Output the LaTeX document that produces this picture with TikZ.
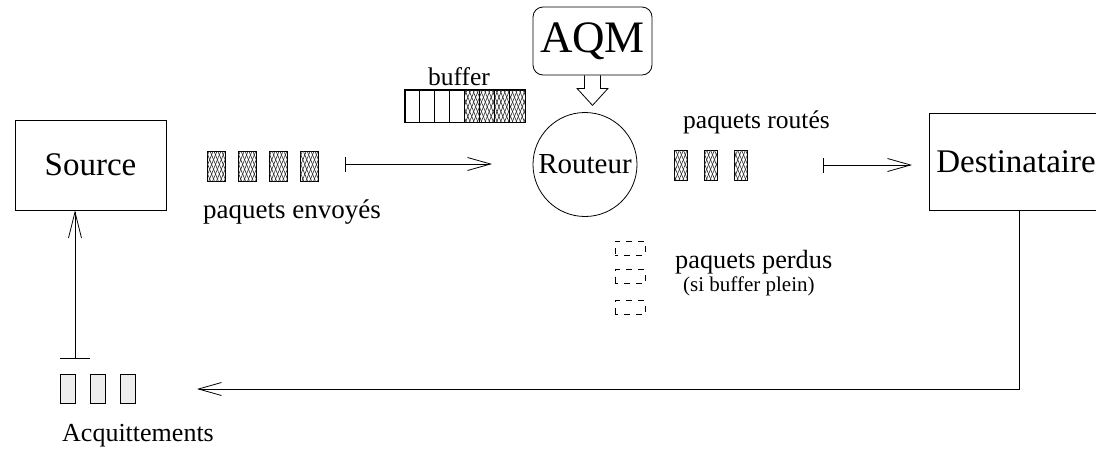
\documentclass[tikz,border=0pt]{standalone}
\usepackage{fontspec}
\setmainfont{Liberation Serif}
\usetikzlibrary{arrows.meta,patterns.meta,calc}

\newcommand\fsz[1]{\fontsize{#1}{#1}\selectfont}

\tikzset{
  lw/.style={line width=0.8pt},
  box/.style={draw, lw, inner sep=0pt},
  hatched/.style={
    pattern={Lines[angle=68,distance=3.6pt,line width=0.6pt]}, pattern color=black!85,
    postaction={pattern={Lines[angle=-68,distance=3.6pt,line width=0.6pt]}, pattern color=black!85}},
  pkt/.style={draw, lw, inner sep=0pt, minimum width=18pt, minimum height=30pt, hatched},
  rpkt/.style={pkt, minimum width=13pt},
  lost/.style={draw, lw, inner sep=0pt, minimum width=30pt, minimum height=14pt,
    dash pattern=on 6pt off 6pt, dash phase=3pt},
  ackpkt/.style={draw, lw, inner sep=0pt, minimum width=15pt, minimum height=29pt, fill=black!7},
  lbl/.style={inner sep=0pt, anchor=base west},
  flow/.style={lw, {Bar[width=15pt]}-{Straight Barb[length=23pt,width=13pt]}},
  ackflow/.style={lw, {Bar[width=30pt]}-{Straight Barb[length=26pt,width=13pt]}},
  back/.style={lw, -{Straight Barb[length=23pt,width=13pt]}},
}

\begin{document}
\begin{tikzpicture}[x=1pt,y=-1pt]
\clip (0,0) rectangle (1096,448);

% end hosts, router and queue manager
\node[box, minimum width=151pt, minimum height=90pt, font=\fsz{33}] (src) at (90.5,165) {Source};
\node[box, minimum width=180pt, minimum height=97pt, font=\fsz{33}] (dst) at (1019,161.5) {\hspace*{-6pt}Destinataire};
\node[draw, lw, circle, minimum size=104pt, inner sep=0pt, font=\fsz{29}] (rtr) at (585,164.5) {Routeur};
\node[draw, lw, rounded corners=10pt, minimum width=119pt, minimum height=68pt, inner sep=0pt, font=\fsz{45}] (aqm) at (592.5,41) {AQM};

% hollow arrow from the queue manager down to the router
\draw[lw] ($(aqm.south)+(-8,0)$) -- ++(0,13) -- ++(-7.5,0)
  -- ($(aqm.south)+(0,30)$) -- ($(aqm.south)+(15.5,13)$) -- ++(-7.5,0)
  -- ($(aqm.south)+(8,0)$);

% router buffer: four free cells, four occupied ones
\node[box, minimum width=120pt, minimum height=32pt] (buf) at (465,106) {};
\path[hatched] (buf.north) rectangle (buf.south east);
\foreach \k in {1,...,7}
  \draw[lw] ($(buf.north west)+(15*\k,0)$) -- ($(buf.south west)+(15*\k,0)$);
\draw[lw] (buf.north west) rectangle (buf.south east);
\node[lbl, anchor=base, font=\fsz{25.5}] (buflbl) at (459,85) {buffer};

% packets sent by the source
\node[pkt] (s1) at (216,166) {};
\node[pkt] (s2) at (247,166) {};
\node[pkt] (s3) at (278,166) {};
\node[pkt] (s4) at (309,166) {};
\node[lbl, font=\fsz{27}] (sentlbl) at (203,218) {paquets envoyés};
\coordinate (sentA) at (345,164);
\coordinate (sentB) at (492,164);
\draw[flow] (sentA) -- (sentB);

% packets forwarded by the router
\node[rpkt] (r1) at (680.5,165) {};
\node[rpkt] (r2) at (710.5,165) {};
\node[rpkt] (r3) at (740.5,165) {};
\node[lbl, font=\fsz{25.5}] (routedlbl) at (683,128) {paquets routés};
\coordinate (routA) at (823,165);
\coordinate (routB) at (912,165);
\draw[flow] (routA) -- (routB);

% dropped packets
\node[lost] (l1) at (630,248) {};
\node[lost] (l2) at (630,276.5) {};
\node[lost] (l3) at (630,307.5) {};
\node[lbl, font=\fsz{26.3}] (lostlbl) at (675,268) {paquets perdus};
\node[lbl, font=\fsz{21}] (fulllbl) at (683,291) {(si buffer plein)};

% acknowledgements back to the source
\coordinate (ackIn) at (197,389);
\draw[back] (dst.south) |- (ackIn);
\node[ackpkt] (a1) at (67.5,389) {};
\node[ackpkt] (a2) at (97.5,389) {};
\node[ackpkt] (a3) at (127.5,389) {};
\node[lbl, font=\fsz{26}] (acklbl) at (62,441) {Acquittements};
\coordinate (ackA) at (75,359);
\draw[ackflow] (ackA) -- (ackA |- src.south);
\end{tikzpicture}
\end{document}
